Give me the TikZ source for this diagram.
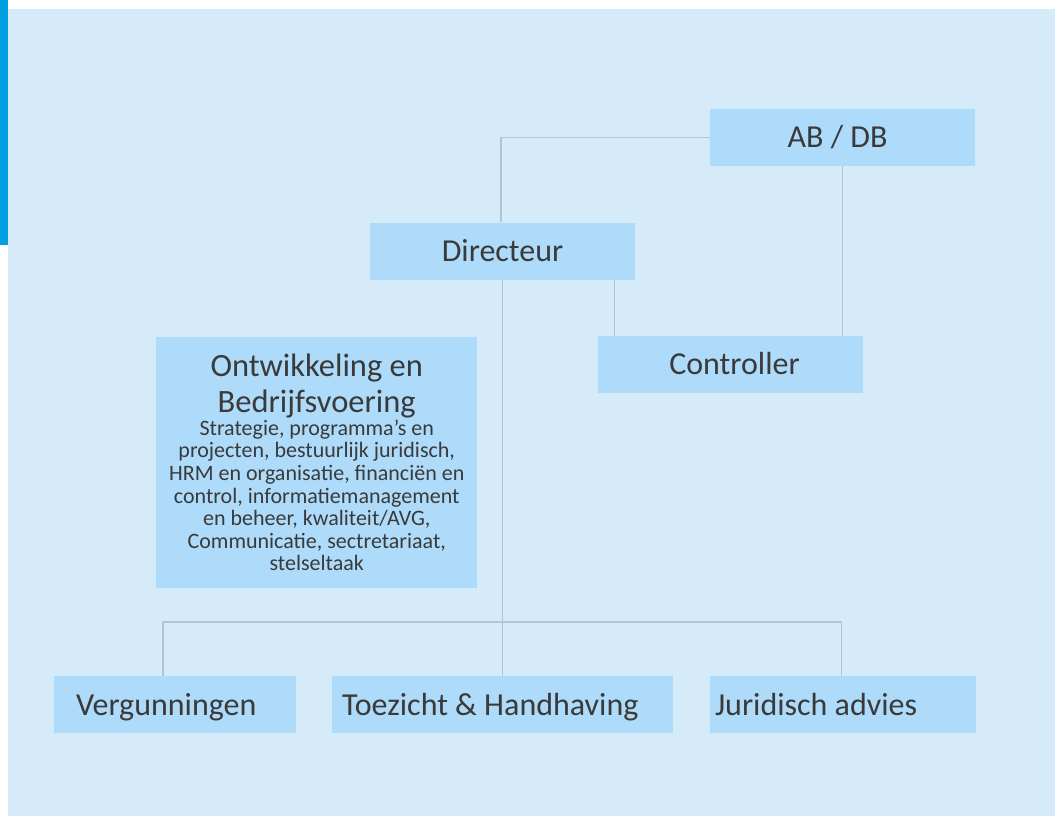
\documentclass[tikz,border=0pt]{standalone}
\usepackage{fontspec}
\setmainfont{Carlito}
\definecolor{bgc}{RGB}{213,235,250}
\definecolor{boxc}{RGB}{173,219,249}
\definecolor{barc}{RGB}{0,160,227}
\definecolor{linec}{RGB}{178,197,210}
\definecolor{txtc}{RGB}{58,58,58}
\newcommand\normsp{\spaceskip=0pt\xspaceskip=0pt\relax}
\begin{document}
\begin{tikzpicture}[x=1pt,y=-1pt,
  box/.style={fill=boxc,draw=none,inner sep=0pt,text=txtc,font=\fontsize{32}{36}\selectfont},
  one/.style={box,minimum height=57,text height=25pt,text depth=4pt},
  link/.style={draw=linec,line width=1.5pt}]
\useasboundingbox (0,0) rectangle (1055,816);
\fill[white] (0,0) rectangle (1055,816);
\fill[bgc] (8,9) rectangle (1055,816);
\fill[barc] (0,0) rectangle (8,245);
% boxes
\node[one,minimum width=265] (ab) at (842.5,137.25) {\hspace*{-10pt}AB / DB};
\node[one,minimum width=265] (dir) at (502.5,251) {Directeur};
\node[one,minimum width=265] (ctrl) at (730,364.25) {\hspace*{9pt}Controller};
\node[box,minimum width=321,minimum height=251,text width=321pt] (ob) at (316.75,462.5)
 {\normsp\centering\fontsize{32.5}{36}\selectfont Ontwikkeling en\\Bedrijfsvoering\par
  \fontsize{22}{22.6}\selectfont Strategie, programma’s en\\projecten, bestuurlijk juridisch,\\HRM en organisatie, financiën en\\control, informatiemanagement\\en beheer, kwaliteit/AVG,\\Communicatie, sectretariaat,\\stelseltaak\par};
\node[one,text width=198pt,inner xsep=22pt] (verg) at (175,704.5) {\normsp\raggedright Vergunningen};
\node[one,text width=321pt,inner xsep=10pt] (toe) at (502.5,704.5) {\normsp\raggedright Toezicht \& Handhaving};
\node[one,text width=256pt,inner xsep=5pt] (jur) at (843,704.5) {\normsp\raggedright Juridisch advies};
% connectors
\coordinate (bus) at (502.5,622);
\draw[link] (ab.west) -| ([xshift=-1.5pt]dir.north);
\draw[link] (ab.south) -- (ab.south |- ctrl.north);
\draw[link] ([xshift=112pt]dir.south) -- ([xshift=112pt]dir.south |- ctrl.north);
\draw[link] (dir.south) -- (toe.north);
\draw[link] ([xshift=-12pt]verg.north) |- (bus) -| ([xshift=-1.5pt]jur.north);
\end{tikzpicture}
\end{document}
